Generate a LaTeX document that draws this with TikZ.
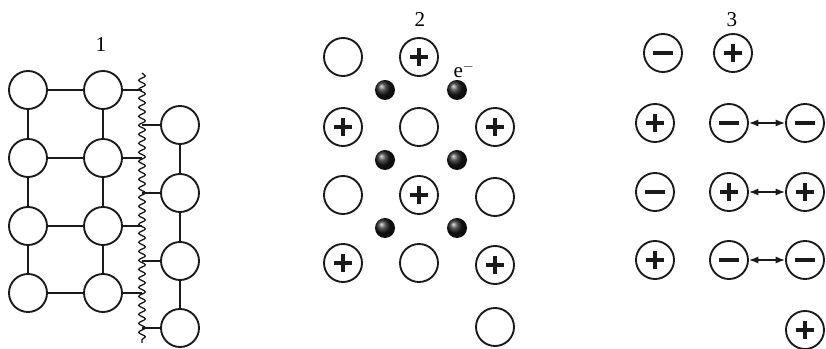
\documentclass[tikz,border=0pt]{standalone}
\usepackage{fontspec}
\setmainfont{Liberation Serif}
\usetikzlibrary{arrows.meta,decorations.pathmorphing}
\definecolor{ink}{HTML}{1A1A1A}

\begin{document}
\begin{tikzpicture}[x=0.03cm,y=-0.03cm,font=\fontsize{18}{20}\selectfont,>={Latex[length=8pt,width=6pt]},
  atom/.style={circle,draw=ink,line width=1.6pt,minimum size=1.14cm,inner sep=0pt},
  cation/.style={atom,path picture={\draw[ink,line width=3.8pt] (path picture bounding box.center) +(-0.26cm,0) -- +(0.26cm,0) (path picture bounding box.center) +(0,-0.26cm) -- +(0,0.26cm);}},
  anion/.style={atom,path picture={\draw[ink,line width=3.8pt] (path picture bounding box.center) +(-0.3cm,0) -- +(0.3cm,0);}},
  bond/.style={ink,line width=1.1pt},
  elec/.style={circle,inner sep=0pt,minimum size=0.6cm,shading=ball,ball color=black!90}]
\useasboundingbox (0,0) rectangle (826,349);
% 1: two lattices joined across the boundary
\node (lab1) at (101,45) {1};
\foreach \y [count=\i] in {90,158,226,293} {
  \node[atom] (a\i) at (28,\y) {};
  \node[atom] (b\i) at (103,\y) {};
  \node[atom] (c\i) at (180,\y+35) {};
  \coordinate (w\i) at (142,\y);
  \coordinate (v\i) at (142,\y+35);
  \draw[bond] (a\i) -- (b\i) (b\i) -- (w\i) (v\i) -- (c\i);
}
\foreach \i/\j in {1/2,2/3,3/4} {\draw[bond] (a\i) -- (a\j) (b\i) -- (b\j) (c\i) -- (c\j);}
\coordinate (wtop) at (142,73);
\coordinate (wbot) at (142,343);
\draw[bond,decorate,decoration={snake,segment length=0.27cm,amplitude=0.1cm}] (wtop) -- (wbot);
% 2: ions and free electrons
\node (lab2) at (420,20) {2};
\node (elab) at (464,70) {e$^-$};
\foreach \x/\y/\k [count=\i] in {343/57/atom,419/57/cation,343/127/cation,419/127/atom,495/127/cation,343/195/atom,419/195/cation,495/197/atom,343/263/cation,419/263/atom,495/265/cation,495/327/atom}
  {\node[\k] (m\i) at (\x,\y) {};}
\foreach \y [count=\i] in {90,160,228} {
  \node[elec] (el\i) at (385,\y) {};
  \node[elec] (er\i) at (457,\y) {};
}
% 3: ionic layers, like charges repel
\node (lab3) at (732,20) {3};
\foreach \x/\y/\k [count=\i] in {663/53/anion,733/53/cation,655/123/cation,655/192/anion,655/260/cation,805/330/cation}
  {\node[\k] (s\i) at (\x,\y) {};}
\foreach \k/\y [count=\i] in {anion/123,cation/192,anion/260} {
  \node[\k] (p\i) at (729,\y) {};
  \node[\k] (q\i) at (805,\y) {};
  \draw[bond,<->] (p\i) -- (q\i);
}
\end{tikzpicture}
\end{document}
